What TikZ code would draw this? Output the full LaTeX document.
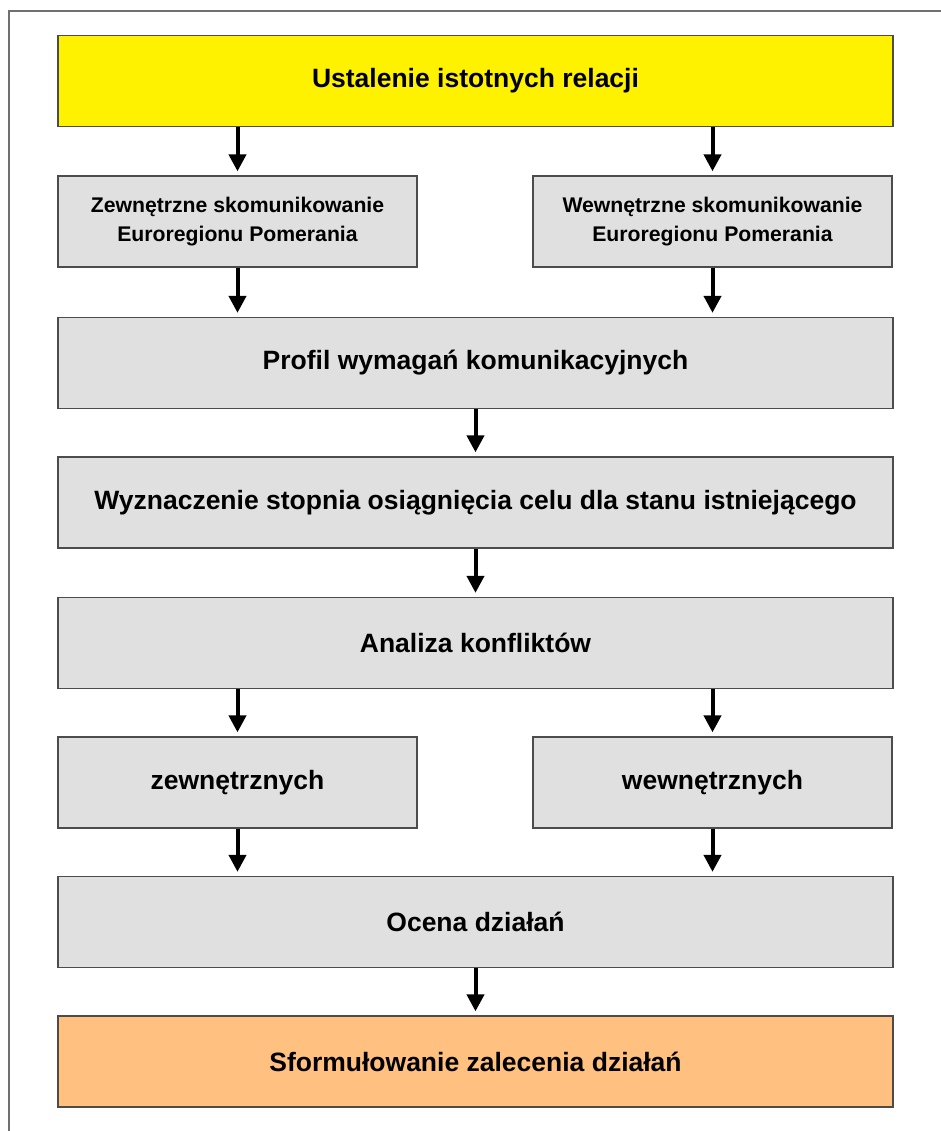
\documentclass[tikz,border=0pt]{standalone}
\usepackage{fontspec}
\setmainfont{Liberation Sans}
\usetikzlibrary{arrows.meta}
\definecolor{boxgray}{HTML}{E0E0E0}
\definecolor{peach}{HTML}{FFC080}
\definecolor{framegray}{HTML}{707070}

\begin{document}
\begin{tikzpicture}[x=1pt, y=-1pt,
    box/.style={draw=black!70, line width=1.3pt, fill=boxgray, minimum height=91pt,
      inner sep=0pt, font=\bfseries\fontsize{26.5}{32}\selectfont},
    wide/.style={box, minimum width=835pt},
    half/.style={box, minimum width=359pt},
    small/.style={font=\bfseries\fontsize{21.2}{29}\selectfont, align=center},
    arr/.style={-{Triangle[width=17pt,length=17pt]}, line width=4pt, shorten >=4pt}]
  \useasboundingbox (0,0) rectangle (941,1131);
  % outer frame (only top and left edge are visible)
  \draw[framegray, line width=1.5pt] (9,1150) -- (9,11) -- (960,11);

  \node[wide, fill=yellow] (relacje) at (475.5,81) {Ustalenie istotnych relacji};
  \node[half, small] (zewnSkom) at (237.5,221.5) {Zewnętrzne skomunikowanie\\Euroregionu Pomerania};
  \node[half, small] (wewnSkom) at (712.5,221.5) {Wewnętrzne skomunikowanie\\Euroregionu Pomerania};
  \node[wide] (profil) at (475.5,363) {Profil wymagań komunikacyjnych};
  \node[wide] (stopien) at (475.5,502.5) {Wyznaczenie stopnia osiągnięcia celu dla stanu istniejącego};
  \node[wide] (analiza) at (475.5,643) {Analiza konfliktów};
  \node[half] (zewn) at (237.5,782.5) {zewnętrznych};
  \node[half] (wewn) at (712.5,782.5) {wewnętrznych};
  \node[wide] (ocena) at (475.5,922) {Ocena działań};
  \node[wide, fill=peach] (zalecenie) at (475.5,1061.5) {Sformułowanie zalecenia działań};

  \draw[arr] (relacje.south -| zewnSkom.north) -- (zewnSkom.north);
  \draw[arr] (relacje.south -| wewnSkom.north) -- (wewnSkom.north);
  \draw[arr] (zewnSkom.south) -- (zewnSkom.south |- profil.north);
  \draw[arr] (wewnSkom.south) -- (wewnSkom.south |- profil.north);
  \draw[arr] (profil) -- (stopien);
  \draw[arr] (stopien) -- (analiza);
  \draw[arr] (analiza.south -| zewn.north) -- (zewn.north);
  \draw[arr] (analiza.south -| wewn.north) -- (wewn.north);
  \draw[arr] (zewn.south) -- (zewn.south |- ocena.north);
  \draw[arr] (wewn.south) -- (wewn.south |- ocena.north);
  \draw[arr] (ocena) -- (zalecenie);
\end{tikzpicture}
\end{document}
